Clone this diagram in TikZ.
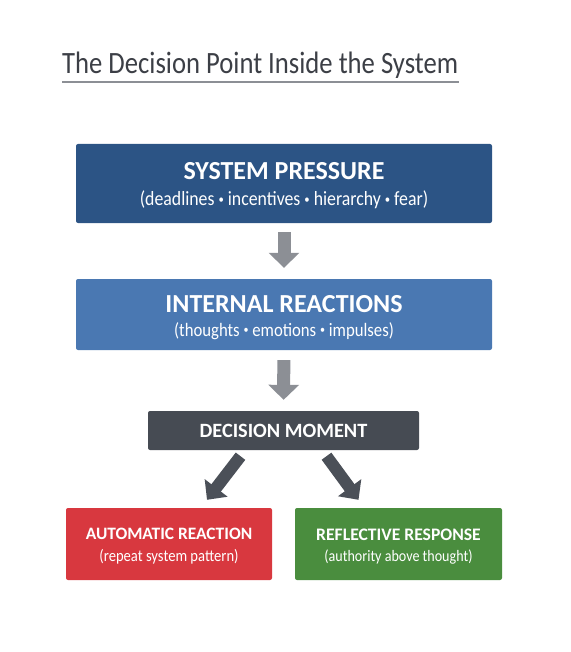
\documentclass[tikz,border=0pt]{standalone}
\usepackage{fontspec}
\setmainfont{Carlito}
\newfontfamily\titlefont[FakeStretch=0.86]{Carlito}
\newfontfamily\narrowfont[FakeStretch=0.88]{Carlito}
\usetikzlibrary{arrows.meta}

\definecolor{pressureblue}{HTML}{2C5485}
\definecolor{reactionblue}{HTML}{4A78B2}
\definecolor{momentgray}{HTML}{464B53}
\definecolor{autored}{HTML}{D8383F}
\definecolor{reflectgreen}{HTML}{4A8D3E}
\definecolor{flowgray}{HTML}{8C8F95}
\definecolor{forkgray}{HTML}{4B5058}
\definecolor{titleink}{HTML}{3C3F46}

\tikzset{
  stage/.style={rectangle, rounded corners=2pt, text=white, align=center, inner sep=0pt},
  flowarrow/.style={draw=flowgray, line width=13pt, -{Triangle[length=15pt,width=30pt]}},
  forkarrow/.style={draw=forkgray, line width=12pt, -{Triangle[length=15pt,width=28pt]}},
}

\newcommand{\headsize}[2]{\fontsize{#1}{#1}\selectfont\bfseries\rule{0pt}{#2pt}}
\newcommand{\subsize}[1]{\fontsize{#1}{#1}\selectfont\narrowfont\mdseries}
\newcommand{\dotsep}{\ \raisebox{0.14em}{\scalebox{0.6}{•}}\ }

\begin{document}
\begin{tikzpicture}[x=1pt, y=-1pt]
\useasboundingbox (0,0) rectangle (570,652);
\node[anchor=base west, text=titleink, inner sep=0pt, font=\titlefont\fontsize{31}{31}\selectfont] (title) at (62,74) {The Decision Point Inside the System};
\draw[draw=flowgray, line width=1.2pt] (62,82) -- (459,82);

\node[stage, fill=pressureblue, minimum width=416, minimum height=79] (pressure) at (284,183.5) {\headsize{26}{22}SYSTEM PRESSURE\\[10pt] \subsize{20.2}(deadlines\dotsep incentives\dotsep hierarchy\dotsep fear)};
\node[stage, fill=reactionblue, minimum width=416, minimum height=71] (reactions) at (284,314.5) {\headsize{26}{23}INTERNAL REACTIONS\\[9pt] \subsize{19}(thoughts\dotsep emotions\dotsep impulses)};
\node[stage, fill=momentgray, minimum width=271, minimum height=39] (decision) at (283.5,430.5) {\headsize{20.3}{0}DECISION MOMENT};
\node[stage, fill=autored, minimum width=206, minimum height=72] (automatic) at (169,544) {\headsize{17.4}{16}AUTOMATIC REACTION\\[9pt] \subsize{16.6}(repeat system pattern)};
\node[stage, fill=reflectgreen, minimum width=207, minimum height=72] (reflective) at (398.5,544) {\headsize{17.6}{16}REFLECTIVE RESPONSE\\[9pt] \subsize{16}(authority above thought)};

\draw[flowarrow, shorten <=9pt, shorten >=11pt] (pressure) -- (reactions);
\draw[flowarrow, shorten <=10pt, shorten >=11pt] (reactions) -- (decision);
\draw[forkarrow] ([xshift=-43pt,yshift=-6pt]decision.south) -- ([xshift=38pt,yshift=8pt]automatic.north);
\draw[forkarrow] ([xshift=43pt,yshift=-6pt]decision.south) -- ([xshift=-40pt,yshift=8pt]reflective.north);
\end{tikzpicture}
\end{document}
